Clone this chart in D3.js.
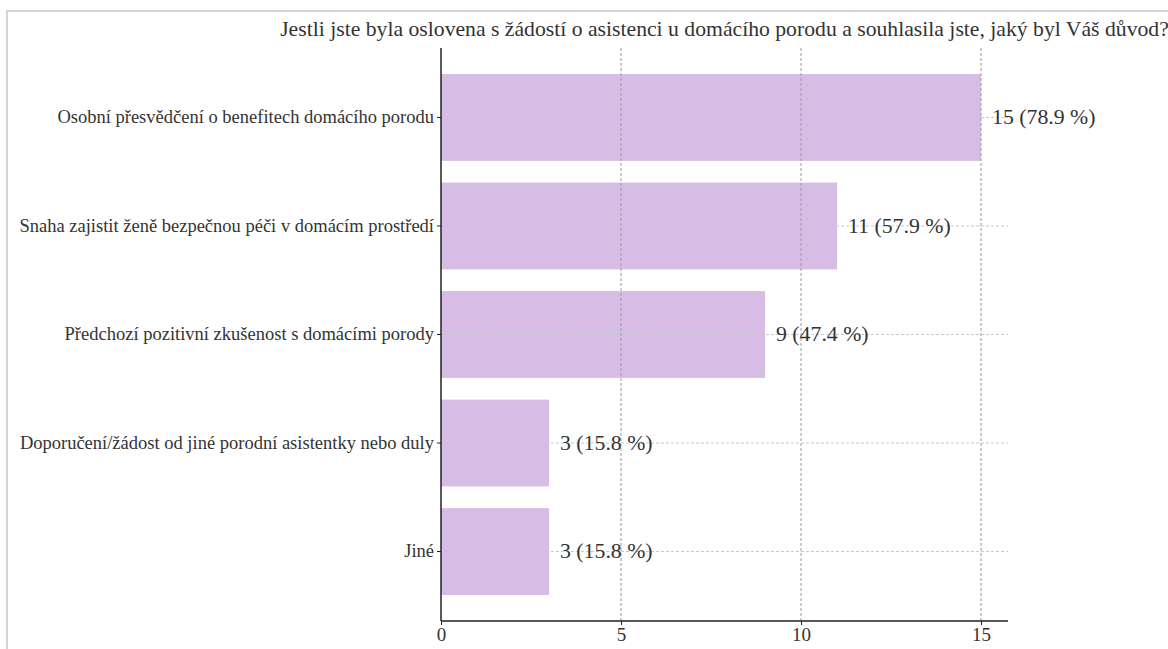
<!DOCTYPE html>
<html>
<head>
<meta charset="utf-8">
<script src="https://cdn.jsdelivr.net/npm/d3@7"></script>
<style>
  html, body { margin: 0; padding: 0; background: #fff; overflow: hidden; }
  svg { display: block; }
</style>
</head>
<body>
<svg id="chart" width="1168" height="649"></svg>
<script>
const title = "Jestli jste byla oslovena s žádostí o asistenci u domácího porodu a souhlasila jste, jaký byl Váš důvod?";
const categories = [
  "Osobní přesvědčení o benefitech domácího porodu",
  "Snaha zajistit ženě bezpečnou péči v domácím prostředí",
  "Předchozí pozitivní zkušenost s domácími porody",
  "Doporučení/žádost od jiné porodní asistentky nebo duly",
  "Jiné"
];
const counts = [15, 11, 9, 3, 3];
const percents = ["78.9", "57.9", "47.4", "15.8", "15.8"];
const xTicks = [0, 5, 10, 15];

const svg = d3.select("#chart");
const font = "'Liberation Serif', 'Times New Roman', serif";
const textColor = "#333";

// frame around the figure
svg.append("rect")
  .attr("x", 7).attr("y", 11)
  .attr("width", 1200).attr("height", 700)
  .attr("fill", "none").attr("stroke", "#d4d4d4").attr("stroke-width", 2);

const plotLeft = 441, plotRight = 1008, plotTop = 48, plotBottom = 621;

const x = d3.scaleLinear().domain([0, 15.75]).range([plotLeft, plotRight]);
const y = d3.scaleBand().domain(categories).range([plotTop, plotBottom])
  .paddingInner(0.2).paddingOuter(0.24);

// bars
svg.append("g").selectAll("rect")
  .data(categories)
  .join("rect")
  .attr("x", x(0))
  .attr("y", d => y(d))
  .attr("width", (d, i) => x(counts[i]) - x(0))
  .attr("height", y.bandwidth())
  .attr("fill", "#d7bce6");

// grid lines, drawn over the bars
const grid = svg.append("g");
grid.selectAll("line.v")
  .data(xTicks.slice(1))
  .join("line")
  .attr("class", "v")
  .attr("x1", d => x(d)).attr("x2", d => x(d))
  .attr("y1", plotTop).attr("y2", plotBottom)
  .attr("stroke", "#9a9a9a").attr("stroke-width", 1)
  .attr("stroke-dasharray", "3,2");
grid.selectAll("line.h")
  .data(categories)
  .join("line")
  .attr("class", "h")
  .attr("x1", plotLeft).attr("x2", plotRight)
  .attr("y1", d => y(d) + y.bandwidth() / 2)
  .attr("y2", d => y(d) + y.bandwidth() / 2)
  .attr("stroke", "#c8c8c8").attr("stroke-width", 1)
  .attr("stroke-dasharray", "3,2");

// axes
const xAxis = d3.axisBottom(x).tickValues(xTicks).tickSize(4).tickPadding(3).tickFormat(d3.format("d"));
const gx = svg.append("g").attr("transform", `translate(0,${plotBottom})`).call(xAxis);
gx.select(".domain").attr("d", `M${plotLeft},0H${plotRight}`).attr("stroke", "#222").attr("stroke-width", 1.5);
gx.selectAll(".tick line").attr("stroke", "#222");
gx.selectAll(".tick text").attr("font-family", font).attr("font-size", 19).attr("fill", textColor);

const yAxis = d3.axisLeft(y).tickSize(4).tickPadding(3);
const gy = svg.append("g").attr("transform", `translate(${plotLeft},0)`).call(yAxis);
gy.select(".domain").attr("d", `M0,${plotTop}V${plotBottom}`).attr("stroke", "#222").attr("stroke-width", 1.5);
gy.selectAll(".tick line").attr("stroke", "#222");
gy.selectAll(".tick text").attr("font-family", font).attr("font-size", 18.5).attr("fill", textColor);

// value labels
svg.append("g").selectAll("text")
  .data(categories)
  .join("text")
  .attr("x", (d, i) => x(counts[i]) + 11)
  .attr("y", d => y(d) + y.bandwidth() / 2 - 1)
  .attr("dy", "0.35em")
  .attr("font-family", font).attr("font-size", 21.8).attr("fill", textColor)
  .text((d, i) => `${counts[i]} (${percents[i]} %)`);

// title
svg.append("text")
  .attr("x", (plotLeft + plotRight) / 2).attr("y", 36)
  .attr("text-anchor", "middle")
  .attr("font-family", font).attr("font-size", 21.7).attr("fill", textColor)
  .text(title);
</script>
</body>
</html>
